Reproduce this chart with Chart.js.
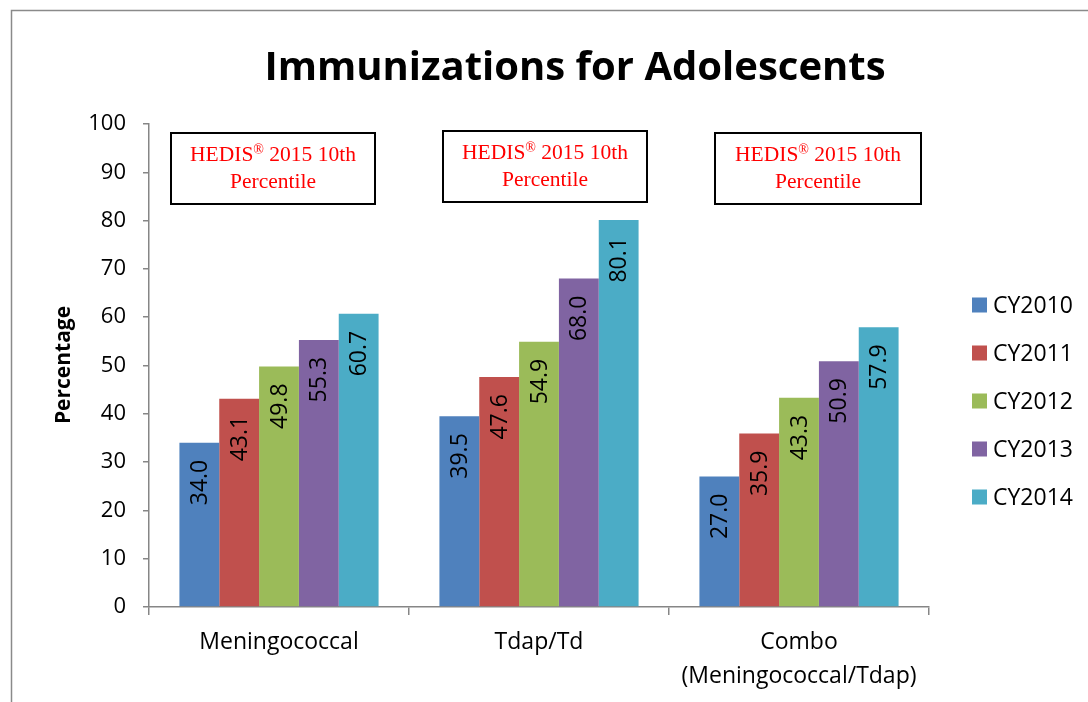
<!DOCTYPE html>
<html>
<head>
<meta charset="utf-8">
<script src="https://cdn.jsdelivr.net/npm/chart.js@4.4.1/dist/chart.umd.min.js"></script>
<style>
  html, body { margin: 0; padding: 0; background: #ffffff; }
  #wrap { position: relative; width: 1088px; height: 702px; }
</style>
</head>
<body>
<div id="wrap"><canvas id="c"></canvas></div>
<script>
const categories = ['Meningococcal', 'Tdap/Td', ['Combo', '(Meningococcal/Tdap)']];
const seriesNames = ['CY2010', 'CY2011', 'CY2012', 'CY2013', 'CY2014'];
const cy2010 = [34.0, 39.5, 27.0];
const cy2011 = [43.1, 47.6, 35.9];
const cy2012 = [49.8, 54.9, 43.3];
const cy2013 = [55.3, 68.0, 50.9];
const cy2014 = [60.7, 80.1, 57.9];
const seriesColors = ['#4F81BD', '#C0504D', '#9BBB59', '#8064A2', '#4BACC6'];
const chartTitle = 'Immunizations for Adolescents';
const yAxisTitle = 'Percentage';
const yMin = 0, yMax = 100, yStep = 10;
const noteLines = ['HEDIS', '®', ' 2015 10th', 'Percentile'];

const FONT = '"Open Sans", "DejaVu Sans", sans-serif';
const allSeries = [cy2010, cy2011, cy2012, cy2013, cy2014];

const decorPlugin = {
  id: 'decor',
  beforeDraw(chart) {
    const ctx = chart.ctx;
    ctx.save();
    ctx.fillStyle = '#ffffff';
    ctx.fillRect(0, 0, chart.width, chart.height);
    ctx.strokeStyle = '#8a8a8a';
    ctx.lineWidth = 1.5;
    ctx.strokeRect(11.5, 10.5, 1200, 800);
    ctx.restore();
  },
  afterDraw(chart) {
    const ctx = chart.ctx;
    ctx.save();
    // title
    ctx.fillStyle = '#000';
    ctx.font = 'bold 40px ' + FONT;
    ctx.textAlign = 'center';
    ctx.textBaseline = 'middle';
    ctx.fillText(chartTitle, 575, 69);

    // y axis title
    ctx.save();
    ctx.translate(64, 365);
    ctx.rotate(-Math.PI / 2);
    ctx.font = 'bold 21px ' + FONT;
    ctx.fillText(yAxisTitle, 0, 0);
    ctx.restore();

    // data labels
    ctx.font = '23px ' + FONT;
    ctx.fillStyle = '#000';
    chart.data.datasets.forEach((ds, di) => {
      const meta = chart.getDatasetMeta(di);
      meta.data.forEach((bar, i) => {
        const v = ds.data[i];
        ctx.save();
        ctx.translate(bar.x + 1, bar.y + 17);
        ctx.rotate(-Math.PI / 2);
        ctx.textAlign = 'right';
        ctx.textBaseline = 'middle';
        ctx.fillText(v.toFixed(1), 0, 0);
        ctx.restore();
      });
    });

    // note boxes
    const boxes = [[171, 133, 204, 71], [443, 131, 204, 71], [715, 133, 206, 71]];
    boxes.forEach(b => {
      ctx.strokeStyle = '#000';
      ctx.lineWidth = 2;
      ctx.strokeRect(b[0], b[1], b[2], b[3]);
      const cx = b[0] + b[2] / 2;
      ctx.fillStyle = '#ff0000';
      ctx.textBaseline = 'middle';
      const big = '21.5px "Liberation Serif", "Times New Roman", serif';
      const small = '14px "Liberation Serif", "Times New Roman", serif';
      ctx.font = big;
      const w1 = ctx.measureText(noteLines[0]).width;
      const w3 = ctx.measureText(noteLines[2]).width;
      ctx.font = small;
      const w2 = ctx.measureText(noteLines[1]).width;
      let x = cx - (w1 + w2 + w3) / 2;
      const y1 = b[1] + 22;
      ctx.textAlign = 'left';
      ctx.font = big;
      ctx.fillText(noteLines[0], x, y1);
      x += w1;
      ctx.font = small;
      ctx.fillText(noteLines[1], x, y1 - 5);
      x += w2;
      ctx.font = big;
      ctx.fillText(noteLines[2], x, y1);
      ctx.textAlign = 'center';
      ctx.fillText(noteLines[3], cx, y1 + 27);
    });

    // legend
    ctx.font = '23px ' + FONT;
    ctx.textAlign = 'left';
    ctx.textBaseline = 'middle';
    chart.data.datasets.forEach((ds, di) => {
      const cy = 305 + di * 48;
      ctx.fillStyle = ds.backgroundColor;
      ctx.fillRect(972, cy - 7.5, 15, 15);
      ctx.fillStyle = '#000';
      ctx.fillText(ds.label, 993, cy + 1);
    });
    ctx.restore();
  }
};

new Chart(document.getElementById('c'), {
  type: 'bar',
  data: {
    labels: categories,
    datasets: seriesNames.map((n, i) => ({
      label: n,
      data: allSeries[i],
      backgroundColor: seriesColors[i],
      borderWidth: 0,
      categoryPercentage: 0.766,
      barPercentage: 1.0
    }))
  },
  options: {
    responsive: true,
    maintainAspectRatio: false,
    animation: false,
    devicePixelRatio: 1,
    layout: { padding: { left: 0, top: 124, right: 1088 - 929, bottom: 0 } },
    plugins: { legend: { display: false }, title: { display: false }, tooltip: { enabled: false } },
    scales: {
      x: {
        afterFit(scale) { scale.height = 702 - 607; },
        grid: { display: true, drawOnChartArea: false, drawTicks: true, tickLength: 8, color: '#868686', lineWidth: 1.5, offset: true },
        border: { display: true, color: '#868686', width: 1.5 },
        ticks: { color: '#000', font: { family: FONT, size: 23, lineHeight: 1.48 }, padding: 10, maxRotation: 0, autoSkip: false }
      },
      y: {
        min: yMin, max: yMax,
        afterFit(scale) { scale.width = 149; },
        grid: { display: true, drawOnChartArea: false, drawTicks: true, tickLength: 6, color: '#868686', lineWidth: 1.5 },
        border: { display: true, color: '#868686', width: 1.5 },
        ticks: { stepSize: yStep, color: '#000', font: { family: FONT, size: 22 }, padding: 17 }
      }
    }
  },
  plugins: [decorPlugin]
});
</script>
</body>
</html>
